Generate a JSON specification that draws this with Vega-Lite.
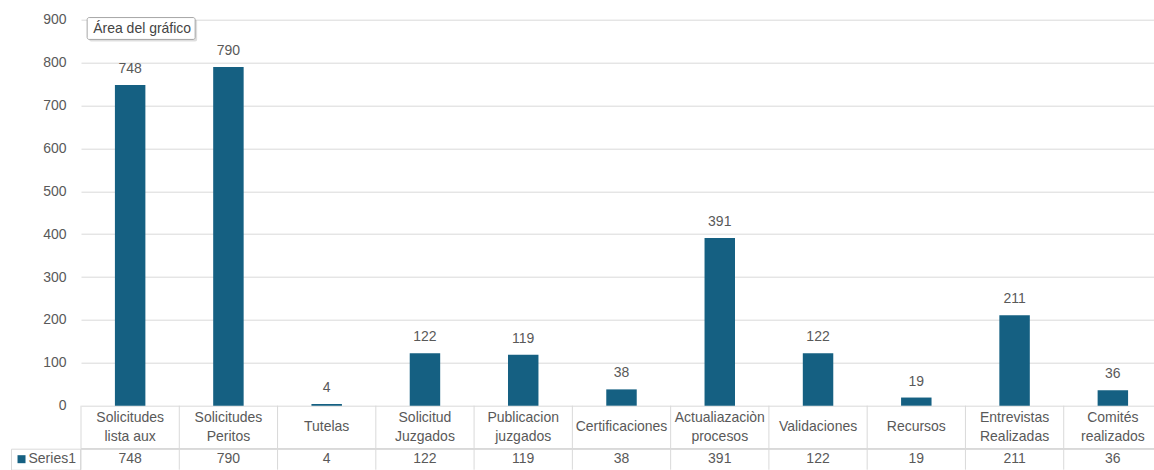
{
  "$schema": "https://vega.github.io/schema/vega-lite/v6.json",
  "background": "white",
  "padding": {"left": 10, "top": 12.7, "right": 0, "bottom": 0},
  "bounds": "flush",
  "spacing": 0,
  "config": {
    "view": {"stroke": null},
    "font": "Liberation Sans",
    "text": {"font": "Liberation Sans"},
    "legend": {"strokeWidth": 1}
  },
  "data": {
    "values": [
      {"cat": "Solicitudes\nlista aux", "value": 748},
      {"cat": "Solicitudes\nPeritos", "value": 790},
      {"cat": "Tutelas", "value": 4},
      {"cat": "Solicitud\nJuzgados", "value": 122},
      {"cat": "Publicacion\njuzgados", "value": 119},
      {"cat": "Certificaciones", "value": 38},
      {"cat": "Actualiazaciòn\nprocesos", "value": 391},
      {"cat": "Validaciones", "value": 122},
      {"cat": "Recursos", "value": 19},
      {"cat": "Entrevistas\nRealizadas", "value": 211},
      {"cat": "Comités\nrealizados", "value": 36}
    ]
  },
  "resolve": {"legend": {"color": "independent"}, "scale": {"color": "independent"}},
  "vconcat": [
    {
      "width": 1074,
      "height": 386,
      "encoding": {
        "x": {
          "field": "cat", "type": "nominal", "sort": null,
          "scale": {"range": [0, 1081], "paddingInner": 0, "paddingOuter": 0},
          "axis": null
        }
      },
      "layer": [
        {
          "mark": {"type": "bar", "color": "#156082", "width": {"band": 0.31}},
          "encoding": {
            "y": {
              "field": "value", "type": "quantitative",
              "scale": {"domain": [0, 900], "nice": false},
              "axis": {
                "title": null, "domain": false, "ticks": false,
                "values": [0, 100, 200, 300, 400, 500, 600, 700, 800, 900],
                "labelPadding": 15, "labelFontSize": 14, "labelColor": "#595959",
                "labelFont": "Liberation Sans",
                "gridColor": "#d9d9d9", "gridWidth": 1
              }
            }
          }
        },
        {
          "mark": {"type": "text", "dy": -12, "baseline": "alphabetic", "fontSize": 14, "color": "#595959"},
          "encoding": {
            "y": {"field": "value", "type": "quantitative"},
            "text": {"field": "value", "type": "quantitative"}
          }
        },
        {
          "transform": [{"filter": "datum.value === 748"}],
          "mark": {"type": "bar", "width": 108, "xOffset": 13, "fill": "#000000", "opacity": 0.13, "cornerRadius": 2},
          "encoding": {"y": {"datum": 900}, "y2": {"datum": 849}}
        },
        {
          "transform": [{"filter": "datum.value === 748"}],
          "mark": {"type": "bar", "width": 108, "xOffset": 11, "fill": "#ffffff", "stroke": "#a6a6a6", "strokeWidth": 1, "cornerRadius": 2},
          "encoding": {"y": {"datum": 905}, "y2": {"datum": 854}}
        },
        {
          "transform": [{"filter": "datum.value === 748"}],
          "mark": {"type": "text", "text": "Área del gráfico", "xOffset": 12, "fontSize": 14, "color": "#444444", "baseline": "alphabetic"},
          "encoding": {"y": {"datum": 868}}
        }
      ]
    },
    {
      "width": 1074,
      "height": 43,
      "encoding": {
        "x": {
          "field": "cat", "type": "nominal", "sort": null,
          "scale": {"range": [0, 1081], "paddingInner": 0, "paddingOuter": 0},
          "axis": null
        }
      },
      "layer": [
        {
          "mark": {"type": "rule", "color": "#d9d9d9", "strokeWidth": 1},
          "encoding": {
            "x": {"field": "cat", "type": "nominal", "sort": null, "bandPosition": 0}
          }
        },
        {
          "transform": [{"filter": "indexof(datum.cat, '\\n') < 0"}],
          "mark": {"type": "text", "fontSize": 14, "color": "#595959", "baseline": "middle"},
          "encoding": {"text": {"field": "cat", "type": "nominal"}}
        },
        {
          "transform": [{"filter": "indexof(datum.cat, '\\n') >= 0"}],
          "mark": {"type": "text", "lineBreak": "\n", "lineHeight": 19, "dy": -9.5, "fontSize": 14, "color": "#595959", "baseline": "middle"},
          "encoding": {"text": {"field": "cat", "type": "nominal"}}
        }
      ]
    },
    {
      "width": 1074,
      "height": 21,
      "layer": [
        {
          "mark": {"type": "rule", "color": "#d9d9d9", "strokeWidth": 1},
          "encoding": {
            "x": {
              "field": "cat", "type": "nominal", "sort": null, "bandPosition": 0,
              "scale": {"range": [0, 1081], "paddingInner": 0, "paddingOuter": 0},
              "axis": null
            }
          }
        },
        {
          "mark": {"type": "rule", "color": "#d9d9d9", "strokeWidth": 1},
          "encoding": {
            "y": {
              "datum": "Series1", "type": "nominal", "bandPosition": 0,
              "scale": {"type": "band", "paddingInner": 0, "paddingOuter": 0},
              "axis": null
            }
          }
        },
        {
          "mark": {"type": "text", "fontSize": 14, "color": "#595959", "baseline": "middle"},
          "encoding": {
            "x": {"field": "cat", "type": "nominal", "sort": null},
            "text": {"field": "value", "type": "quantitative"}
          }
        },
        {
          "mark": {"type": "square", "opacity": 0},
          "encoding": {
            "x": {"field": "cat", "type": "nominal", "sort": null},
            "color": {
              "datum": "Series1", "type": "nominal",
              "scale": {"range": ["#156082"]},
              "legend": {
                "orient": "none", "legendX": -70, "legendY": 0,
                "title": null, "padding": 3.5,
                "strokeColor": "#d9d9d9", "cornerRadius": 0,
                "symbolType": "square", "symbolSize": 64, "symbolStrokeWidth": 0,
                "symbolOpacity": 1, "symbolOffset": 0, "labelOffset": 0,
                "labelFont": "Liberation Sans", "labelFontSize": 14, "labelColor": "#595959"
              }
            }
          }
        }
      ]
    }
  ]
}
